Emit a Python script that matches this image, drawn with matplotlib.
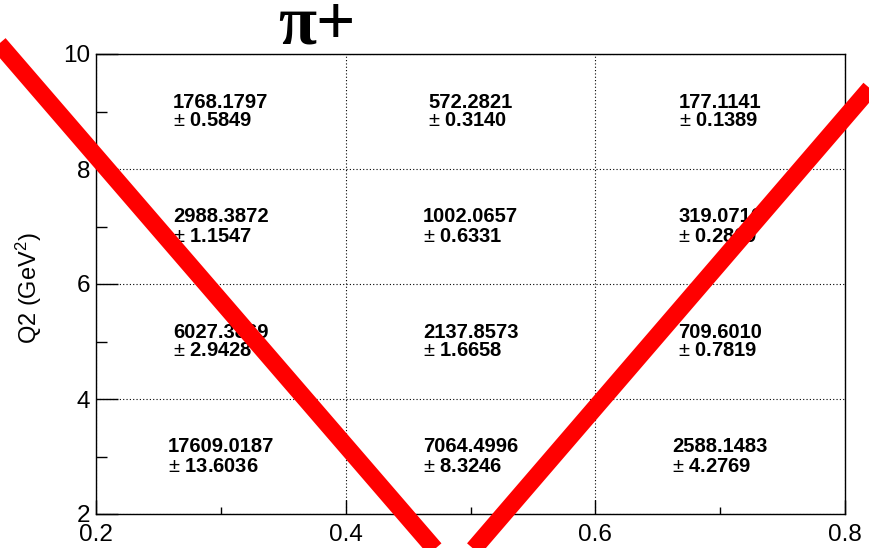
import matplotlib
matplotlib.use("Agg")
import matplotlib.pyplot as plt
from matplotlib.ticker import MultipleLocator

plt.rcParams['font.family'] = ['Liberation Sans', 'DejaVu Sans']
plt.rcParams['mathtext.fontset'] = 'custom'
plt.rcParams['mathtext.rm'] = 'Liberation Sans'
plt.rcParams['mathtext.it'] = 'Liberation Sans:italic'
plt.rcParams['mathtext.bf'] = 'Liberation Sans:bold'

# ---- data ----
x_centers = [0.3, 0.5, 0.7]
y_centers = [3, 5, 7, 9]
# counts per bin, rows = y bins (bottom to top), cols = x bins
counts = [
    [17609.0187, 7064.4996, 2588.1483],
    [6027.3869, 2137.8573, 709.6010],
    [2988.3872, 1002.0657, 319.0716],
    [1768.1797, 572.2821, 177.1141],
]
errors = [
    [13.6036, 8.3246, 4.2769],
    [2.9428, 1.6658, 0.7819],
    [1.1547, 0.6331, 0.2869],
    [0.5849, 0.3140, 0.1389],
]
# red cut line (V shape)
cut_x = [0.09, 0.487, 0.86]
cut_y = [10.99, 1.0, 10.41]

x_ticks = [0.2, 0.4, 0.6, 0.8]
x_ticklabels = ["0.2", "0.4", "0.6", "0.8"]
y_ticks = [2, 4, 6, 8, 10]
y_ticklabels = ["2", "4", "6", "8", "10"]
title = "π+"
ylabel = "Q2 (GeV$^2$)"

# ---- figure ----
fig = plt.figure(figsize=(8.69, 5.48), dpi=100)
ax = fig.add_axes([96/869, 34/548, 749/869, 460/548])
ax.set_xlim(0.2, 0.8)
ax.set_ylim(2, 10)

ax.set_xticks(x_ticks)
ax.set_xticklabels(x_ticklabels)
ax.set_yticks(y_ticks)
ax.set_yticklabels(y_ticklabels)
ax.xaxis.set_minor_locator(MultipleLocator(0.1))
ax.yaxis.set_minor_locator(MultipleLocator(1))

ax.tick_params(axis='x', which='major', direction='in', length=10, width=1,
               pad=7, labelsize=17.5)
ax.tick_params(axis='x', which='minor', direction='in', length=5, width=1)
ax.tick_params(axis='y', which='major', direction='in', length=16, width=1,
               pad=4, labelsize=17.5)
ax.tick_params(axis='y', which='minor', direction='in', length=8, width=1)
for s in ax.spines.values():
    s.set_linewidth(1.0)
    s.set_color('black')

ax.grid(True, which='major', color='black', linestyle=(0, (1, 2)), linewidth=0.8)

ax.set_ylabel(ylabel, fontsize=17)
ax.yaxis.set_label_coords(-0.069, 0.49)

for i, yc in enumerate(y_centers):
    for j, xc in enumerate(x_centers):
        txt = f"{counts[i][j]:.4f}\n$\\pm$ {errors[i][j]:.4f}"
        ax.text(xc, yc, txt, ha='center', va='center', multialignment='left',
                fontsize=14.5, fontweight='bold', linespacing=1.0, zorder=3)

ax.plot(cut_x, cut_y, color='#ff0000', linewidth=12.5, clip_on=False,
        solid_capstyle='butt', zorder=6)

fig.text(317/869, 1 - 43/548, title, ha='center', va='baseline',
         fontsize=50, fontweight='bold', family=['Liberation Serif'])

fig.savefig("out.png", dpi=100)
